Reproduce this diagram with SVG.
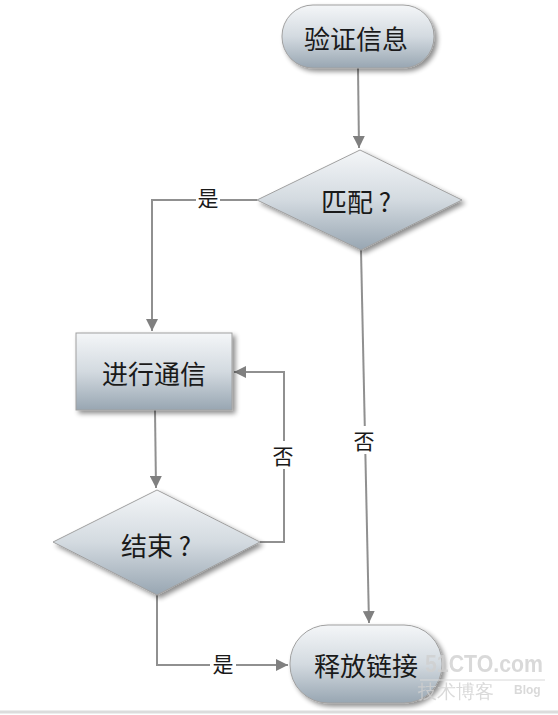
<svg xmlns="http://www.w3.org/2000/svg" width="558" height="715" viewBox="0 0 558 715">
<defs>
<linearGradient id="g" x1="0" y1="0" x2="0" y2="1">
<stop offset="0" stop-color="#f4f6f8"/>
<stop offset="0.5" stop-color="#d3dae0"/>
<stop offset="1" stop-color="#98a6b2"/>
</linearGradient>
<filter id="sh" x="-20%" y="-20%" width="150%" height="150%">
<feGaussianBlur in="SourceAlpha" stdDeviation="2.5"/>
<feOffset dx="3" dy="3" result="b"/>
<feComponentTransfer><feFuncA type="linear" slope="0.45"/></feComponentTransfer>
<feMerge><feMergeNode/><feMergeNode in="SourceGraphic"/></feMerge>
</filter>
<marker id="ah" viewBox="0 0 10 10" refX="10" refY="5" markerWidth="12" markerHeight="12" markerUnits="userSpaceOnUse" orient="auto">
<path d="M0,0 L10,5 L0,10 z" fill="#808080"/>
</marker>
</defs>
<style>
.shape{fill:url(#g);stroke:#a0a0a0;stroke-width:1;filter:url(#sh)}
.t{font-family:"Noto Sans CJK SC","Noto Sans",sans-serif;font-size:26px;fill:#1a1a1a;text-anchor:middle;dominant-baseline:central}
.lbl{font-family:"Noto Sans CJK SC","Noto Sans",sans-serif;font-size:21px;fill:#1a1a1a;text-anchor:middle;dominant-baseline:central}
.c{fill:none;stroke:#909090;stroke-width:2}
.wm{font-family:"Liberation Sans",sans-serif;fill:#d0d0d0}
</style>
<rect width="558" height="715" fill="#ffffff"/>
<g id="connectors">
<path class="c" d="M358,68 L359,148" marker-end="url(#ah)"/>
<path class="c" d="M257,200 L152,200 L152,331" marker-end="url(#ah)"/>
<path class="c" d="M155,410 L156,488" marker-end="url(#ah)"/>
<path class="c" d="M260,542 L284,542 L284,372 L234,372" marker-end="url(#ah)"/>
<path class="c" d="M157,595 L157,665 L288,665" marker-end="url(#ah)"/>
<path class="c" d="M361,250 L369,623" marker-end="url(#ah)"/>
<rect x="196" y="184" width="24" height="28" fill="#ffffff"/>
<text class="lbl" x="208" y="197">是</text>
<rect x="271" y="441" width="26" height="28" fill="#ffffff"/>
<text class="lbl" x="283" y="455">否</text>
<rect x="351" y="426" width="26" height="28" fill="#ffffff"/>
<text class="lbl" x="364" y="440">否</text>
<rect x="210" y="650" width="26" height="28" fill="#ffffff"/>
<text class="lbl" x="223" y="663">是</text>
</g>
<g id="verify">
<rect class="shape" x="282" y="5" width="152" height="63" rx="31" ry="31"/>
<text class="t" x="356" y="37">验证信息</text>
</g>
<g id="match">
<polygon class="shape" points="360,150 462,200 361,250 257,200"/>
<text class="t" x="356" y="200">匹配 ?</text>
</g>
<g id="communicate">
<rect class="shape" x="76" y="333" width="156" height="77"/>
<text class="t" x="154" y="372">进行通信</text>
</g>
<g id="end">
<polygon class="shape" points="157,490 260,542 157,595 53,542"/>
<text class="t" x="156" y="544">结束 ?</text>
</g>
<g id="release">
<rect class="shape" x="290" y="625" width="152" height="78" rx="38" ry="38"/>
<text class="t" x="366" y="664">释放链接</text>
</g>
<g id="watermark">
<text class="wm" x="425" y="672" font-size="24" font-weight="bold" textLength="118" lengthAdjust="spacingAndGlyphs" opacity="0.8">51CTO.com</text>
<line x1="420" y1="680" x2="545" y2="680" stroke="#d8d8d8" stroke-width="1"/>
<text class="wm" x="418" y="698" font-size="19" font-family="Noto Sans CJK SC,sans-serif" opacity="0.8">技术博客</text>
<text class="wm" x="514" y="694" font-size="12" font-weight="bold" opacity="0.8">Blog</text>
</g>
<line x1="0" y1="712" x2="558" y2="712" stroke="#dcdcdc" stroke-width="3"/>
</svg>
